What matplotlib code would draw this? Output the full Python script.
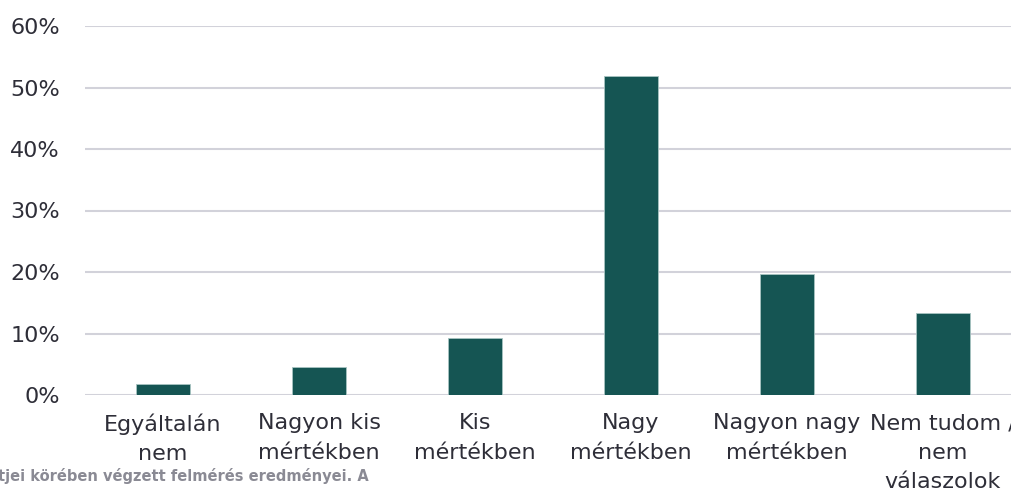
import matplotlib
matplotlib.use('Agg')
import matplotlib.pyplot as plt
from matplotlib.ticker import FuncFormatter

categories = ['Egyáltalán\nnem', 'Nagyon kis\nmértékben', 'Kis\nmértékben',
              'Nagy\nmértékben', 'Nagyon nagy\nmértékben', 'Nem tudom /\nnem\nválaszolok']
values = [1.8, 4.5, 9.3, 51.8, 19.7, 13.3]
yticks = [0, 10, 20, 30, 40, 50, 60]
source_text = 'tjei körében végzett felmérés eredményei. A'

text_color = '#2e2e38'
bar_color = '#155553'
grid_color = '#d2d2da'

plt.rcParams['font.family'] = ['DejaVu Sans']

fig = plt.figure(figsize=(10.11, 4.95), dpi=100)
ax = fig.add_axes([85 / 1011, 100 / 495, 936 / 1011, 369 / 495])

x = range(len(categories))
ax.bar(x, values, width=0.35, color=bar_color, edgecolor='#a8c4c2', linewidth=0.6, zorder=3)

ax.set_xlim(-0.5, len(categories) - 0.5)
ax.set_ylim(0, 60)
ax.set_yticks(yticks)
ax.yaxis.set_major_formatter(FuncFormatter(lambda v, p: f'{v:.0f}%'))
ax.set_xticks(list(x))
ax.set_xticklabels(categories, linespacing=1.6)

ax.grid(axis='y', color=grid_color, linewidth=1.5, zorder=0)
for s in ax.spines.values():
    s.set_visible(False)
ax.tick_params(axis='y', length=0, pad=18, labelsize=16, labelcolor=text_color)
ax.tick_params(axis='x', length=0, pad=13, labelsize=16, labelcolor=text_color)

fig.text(-0.002, 14 / 495, source_text, fontsize=10.5, color='#8a8a94',
         fontweight='bold', ha='left', va='baseline', zorder=0)

fig.savefig('out.png', dpi=100)
